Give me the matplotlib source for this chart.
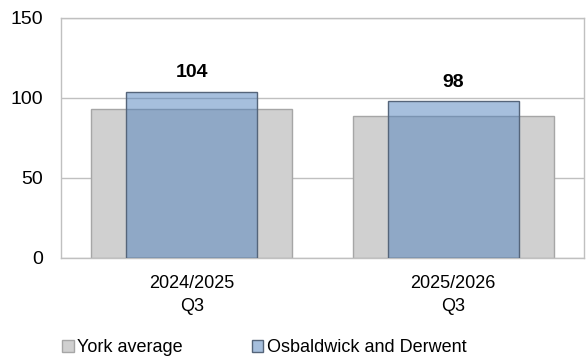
import matplotlib.pyplot as plt
import numpy as np

plt.rcParams['font.family'] = ['Liberation Sans', 'DejaVu Sans']

categories = ['2024/2025\nQ3', '2025/2026\nQ3']
york = [93, 89]
ward = [104, 98]

fig = plt.figure(figsize=(5.86, 3.6), dpi=100)
ax = fig.add_axes([61 / 586, 1 - 258 / 360, 523 / 586, 240 / 360])

x = np.arange(len(categories))
ax.bar(x, york, width=0.77, color='#d0d0d0', edgecolor='#a6a6a6', linewidth=1, label='York average', zorder=2)
ax.bar(x, ward, width=0.50, color=(0.31, 0.506, 0.741, 0.5), edgecolor='#55657a', linewidth=1,
       label='Osbaldwick and Derwent', zorder=3)

for xi, v in zip(x, ward):
    ax.annotate(str(v), (xi, v), xytext=(0, 13.5), textcoords='offset points',
                ha='center', va='center', fontsize=14, fontweight='bold')

ax.set_xlim(-0.5, 1.5)
ax.set_ylim(0, 150)
ax.set_yticks([0, 50, 100, 150])
ax.set_xticks(x)
ax.set_xticklabels(categories, fontsize=13, linespacing=1.45)
ax.tick_params(axis='y', labelsize=14, length=0, pad=13)
ax.tick_params(axis='x', length=0, pad=12)
ax.yaxis.grid(True, color='#c0c0c0', linewidth=1, zorder=0)
ax.set_axisbelow(True)
for s in ax.spines.values():
    s.set_color('#c0c0c0')
    s.set_linewidth(1)

fig.legend(loc='center left', bbox_to_anchor=(62 / 586, 1 - 348 / 360), ncol=2, frameon=False, fontsize=13,
           handlelength=0.65, handleheight=0.65, handletextpad=0.2, columnspacing=3.8,
           borderpad=0, borderaxespad=0)

fig.savefig('out.png', dpi=100)
